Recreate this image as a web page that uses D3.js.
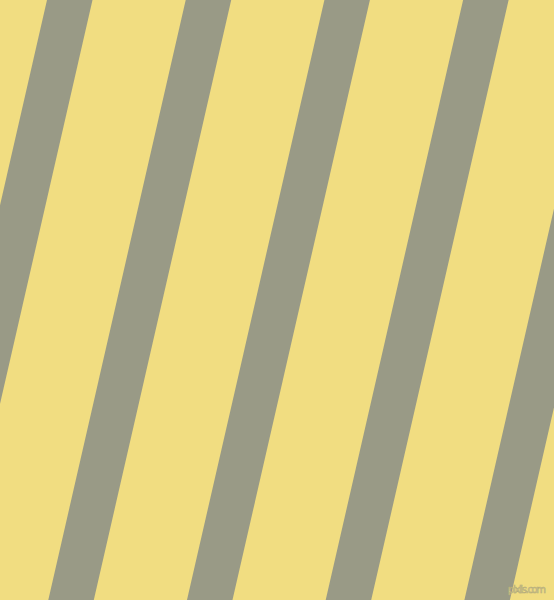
<!DOCTYPE html>
<html>
<head>
<meta charset="utf-8">
<script src="https://cdn.jsdelivr.net/npm/d3@7"></script>
<style>
 html, body { margin: 0; padding: 0; background: #f1dd81; }
 svg { display: block; }
</style>
</head>
<body>
<div id="chart"></div>
<script>
 // stripe indices (one per gray band, including partial ones at the edges)
 const stripeIndex = [-1, 0, 1, 2, 3, 4];
 const watermark = ["pixlis.com"];

 const width = 554;
 const height = 600;
 const period = 138.7;   // horizontal distance between bands
 const bandWidth = 45.5; // horizontal width of a band
 const lean = 0.229;     // dx per dy, bands lean left going down

 const svg = d3
  .select("#chart")
  .append("svg")
  .attr("width", width)
  .attr("height", height);

 svg
  .append("rect")
  .attr("width", width)
  .attr("height", height)
  .attr("fill", "#f1dd81");

 // top-edge position of each band's left side
 const x = d3.scaleLinear().domain([0, 1]).range([47, 47 + period]);
 const y = d3.scaleLinear().domain([0, 1]).range([0, height]);

 svg
  .selectAll(".band")
  .data(stripeIndex)
  .enter()
  .append("polygon")
  .attr("class", "band")
  .attr("fill", "#999a86")
  .attr("points", (d) => {
   const x0 = x(d);
   const shift = lean * y(1);
   return [
    [x0, y(0)],
    [x0 + bandWidth, y(0)],
    [x0 + bandWidth - shift, y(1)],
    [x0 - shift, y(1)],
   ].join(" ");
  });

 svg
  .selectAll(".mark")
  .data(watermark)
  .enter()
  .append("text")
  .attr("class", "mark")
  .attr("x", 546)
  .attr("y", 593)
  .attr("text-anchor", "end")
  .attr("textLength", 38)
  .style("font-family", "DejaVu Sans, sans-serif")
  .style("font-size", "10px")
  .attr("fill", "#ece0a2")
  .attr("stroke", "#b4ab78")
  .attr("stroke-width", 0.6)
  .text((d) => d);
</script>
</body>
</html>
